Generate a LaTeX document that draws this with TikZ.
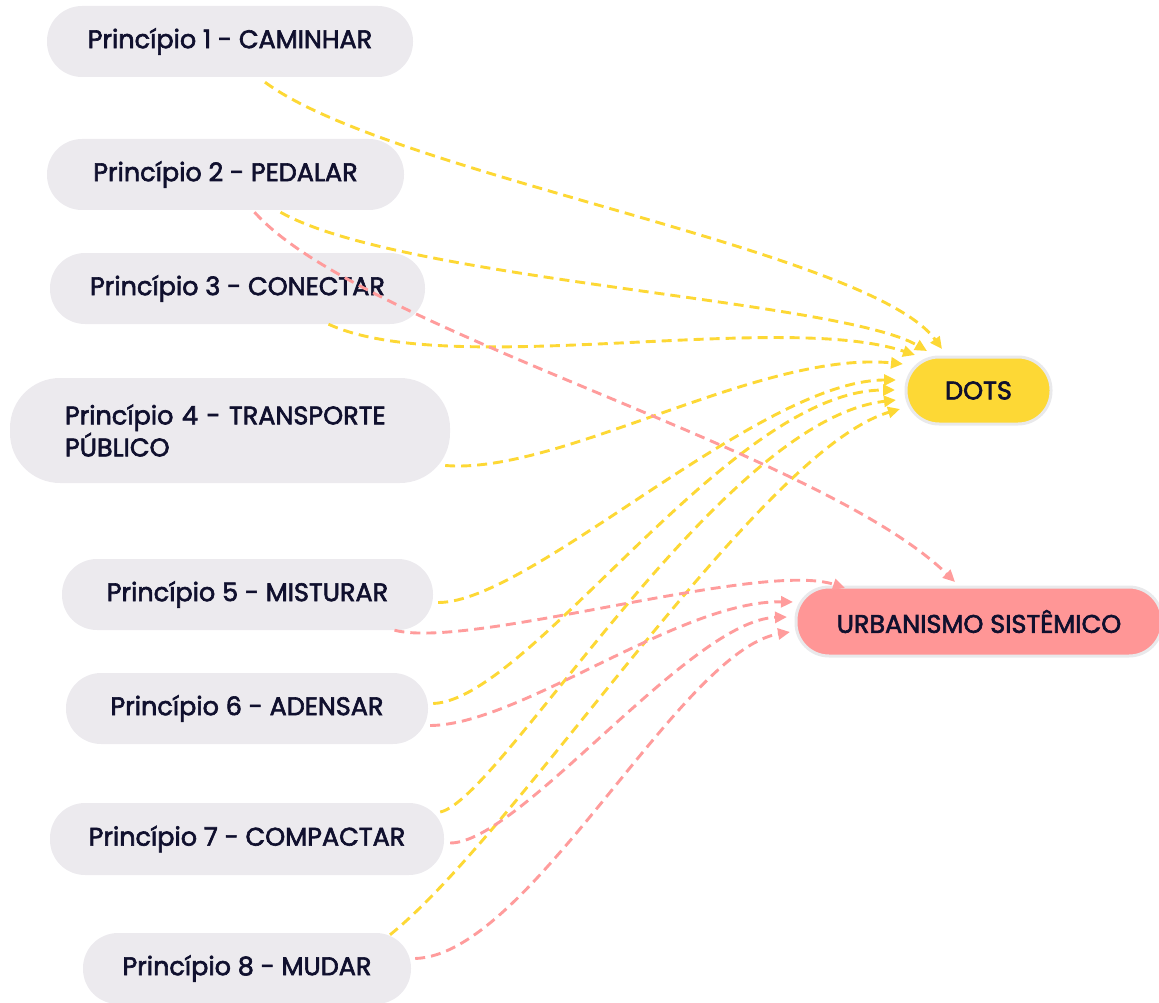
\documentclass[tikz,border=0pt]{standalone}
\usepackage{fontspec}
\newfontfamily\nf{Poppins}[FakeBold=2.4]
\usetikzlibrary{arrows.meta,calc}
\definecolor{boxgray}{HTML}{ECEAEE}
\definecolor{txt}{HTML}{10102E}
\definecolor{ylw}{HTML}{FDD835}
\definecolor{pnk}{HTML}{FF9C9C}
\definecolor{pnkfill}{HTML}{FF9696}
\definecolor{rim}{HTML}{E9E9EB}
\tikzset{
  pbox/.style={fill=boxgray, rounded corners=35pt, minimum height=71pt, inner sep=0pt,
    text=txt, font=\nf\fontsize{25.5}{32}\selectfont},
  tbox/.style={draw=rim, line width=3pt, rounded corners=33pt, minimum height=67pt, inner sep=0pt,
    text=txt, font=\nf\fontsize{25.5}{32}\selectfont},
  link/.style={line width=2.9pt, dash pattern=on 10pt off 6pt, -{Triangle[length=12pt,width=11pt]}},
  ylink/.style={link, draw=ylw, ylw},
  plink/.style={link, draw=pnk, pnk},
}
\begin{document}
\begin{tikzpicture}[x=1pt,y=-1pt]
\useasboundingbox (0,0) rectangle (1159,1003);
% principle nodes
\node[pbox, minimum width=366pt] (p1) at (230,41.5) {Princípio 1 - CAMINHAR};
\node[pbox, minimum width=357pt] (p2) at (225.5,174.5) {Princípio 2 - PEDALAR};
\node[pbox, minimum width=375pt] (p3) at (237.5,288.5) {Princípio 3 - CONECTAR};
\node[pbox, minimum width=440pt, minimum height=105pt, rounded corners=50pt,
      text width=330pt, align=left] (p4) at (230,430.5) {Princípio 4 - TRANSPORTE\\PÚBLICO};
\node[pbox, minimum width=371pt] (p5) at (247.5,594.5) {Princípio 5 - MISTURAR};
\node[pbox, minimum width=362pt] (p6) at (247,708.5) {Princípio 6 - ADENSAR};
\node[pbox, minimum width=394pt, minimum height=72pt] (p7) at (247,839) {Princípio 7 - COMPACTAR};
\node[pbox, minimum width=328pt] (p8) at (247,968.5) {Princípio 8 - MUDAR};
% target nodes
\node[tbox, fill=ylw, minimum width=145pt] (dots) at (978.5,390.5) {DOTS};
\node[tbox, fill=pnkfill, minimum width=366pt, minimum height=69pt] (urb) at (979,621.5) {URBANISMO SISTÊMICO};
% yellow links to DOTS
\draw[ylink] ($(p1.south)+(35,5)$) .. controls (390,175) and (870,250) .. ($(dots.center)+(-36.5,-41.5)$);
\draw[ylink] ($(p2.south)+(55,2)$) .. controls (400,280) and (840,300) .. ($(dots.center)+(-51.5,-39.5)$);
\draw[ylink] ($(p3.south)+(91,0)$) .. controls (450,380) and (780,310) .. ($(dots.center)+(-63.5,-35.5)$);
\draw[ylink] ($(p4.east)+(-5,35)$) .. controls (560,475) and (760,350) .. ($(dots.center)+(-75.5,-26.5)$);
\draw[ylink] ($(p5.east)+(5,8)$) .. controls (530,603) and (760,380) .. ($(dots.center)+(-82.5,-10.5)$);
\draw[ylink] ($(p6.east)+(5,-5)$) .. controls (530,700) and (730,390) .. ($(dots.center)+(-83.5,-0.5)$);
\draw[ylink] ($(p7.east)+(-4,-27)$) .. controls (500,800) and (720,420) .. ($(dots.center)+(-82.5,9.5)$);
\draw[ylink] ($(p8.north)+(143,2)$) .. controls (520,830) and (760,450) .. ($(dots.center)+(-78.5,18.5)$);
% pink links to URBANISMO
\draw[plink] ($(p2.south)+(29,2)$) .. controls (360,330) and (820,450) .. ($(urb.center)+(-24,-39.5)$);
\draw[plink] ($(p5.south)+(147,0)$) .. controls (470,650) and (760,560) .. ($(urb.center)+(-134,-33.5)$);
\draw[plink] ($(p6.east)+(2,17)$) .. controls (520,725) and (680,600) .. ($(urb.center)+(-186,-19.5)$);
\draw[plink] ($(p7.east)+(6,4)$) .. controls (520,843) and (690,620) .. ($(urb.center)+(-192,-4.5)$);
\draw[plink] ($(p8.east)+(4,-10)$) .. controls (530,955) and (680,650) .. ($(urb.center)+(-189,10.5)$);
\end{tikzpicture}
\end{document}
